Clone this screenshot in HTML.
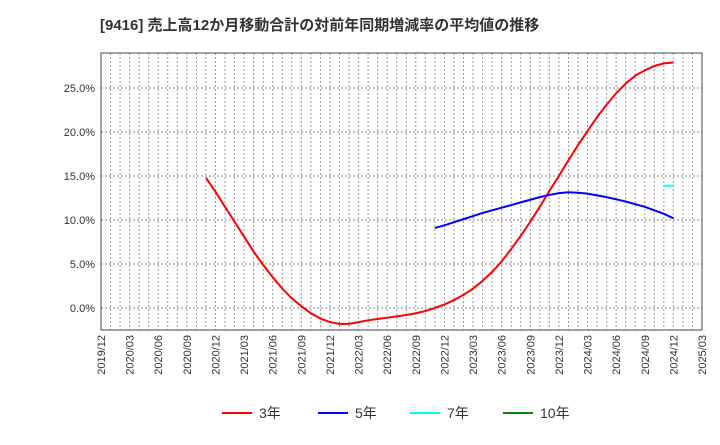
<!DOCTYPE html>
<html><head><meta charset="utf-8"><style>
body{margin:0;background:#fff;font-family:"Liberation Sans","Noto Sans CJK JP",sans-serif;}
</style></head><body>
<svg id="chart" width="720" height="440" xmlns="http://www.w3.org/2000/svg" font-family="Liberation Sans, Noto Sans CJK JP, sans-serif">
<text x="100" y="30" font-size="15" font-weight="bold" fill="#333">[9416]  売上高12か月移動合計の対前年同期増減率の平均値の推移</text>
<g id="grid"></g><g id="series"></g><g id="axes"></g>
<g id="legend"></g>
</svg>
<script>
const xLabels=["2019/12","2020/03","2020/06","2020/09","2020/12","2021/03","2021/06","2021/09","2021/12","2022/03","2022/06","2022/09","2022/12","2023/03","2023/06","2023/09","2023/12","2024/03","2024/06","2024/09","2024/12","2025/03"];
const yTicks=[0,5,10,15,20,25];
const red3Start=11;
const red3=[14.8,13.2,11.5,9.8,8.1,6.4,4.9,3.5,2.2,1.1,0.2,-0.6,-1.2,-1.6,-1.8,-1.8,-1.6,-1.4,-1.25,-1.1,-0.95,-0.8,-0.6,-0.35,0.0,0.4,0.9,1.5,2.2,3.1,4.1,5.3,6.7,8.2,9.8,11.5,13.3,15.0,16.8,18.5,20.1,21.7,23.1,24.4,25.5,26.4,27.0,27.5,27.8,27.9];
const blue5Start=35;
const blue5=[9.1,9.4,9.75,10.1,10.45,10.8,11.1,11.4,11.7,12.0,12.3,12.6,12.85,13.05,13.15,13.1,13.0,12.8,12.6,12.35,12.1,11.8,11.5,11.1,10.7,10.2];
const cyan7Start=59;
const cyan7=[13.9,13.9];
const green10Start=60;
const green10=[];
const X0=101,X1=702,Y0=53,Y1=330,NM=63;
const xs=m=>X0+(X1-X0)*m/NM;
const ys=v=>308-v*8.8;
const NS="http://www.w3.org/2000/svg";
function mk(t,a,p){const e=document.createElementNS(NS,t);for(const k in a)e.setAttribute(k,a[k]);p.appendChild(e);return e;}
const grid=document.getElementById('grid'),axes=document.getElementById('axes'),ser=document.getElementById('series'),leg=document.getElementById('legend');
for(let m=1;m<NM;m++){const l=mk('line',{x1:xs(m),x2:xs(m),y1:Y0,y2:Y1,stroke:'#999','stroke-dasharray':'2,2','stroke-width':1},grid);

}
yTicks.forEach(v=>{const l=mk('line',{x1:X0,x2:X1,y1:ys(v),y2:ys(v),stroke:'#888','stroke-dasharray':'2,2','stroke-width':1},grid);


const t=mk('text',{x:X0-6,y:ys(v)+4,'text-anchor':'end','font-size':11,fill:'#333'},axes);t.textContent=v.toFixed(1)+'%';

});
const fr=mk('rect',{x:X0,y:Y0,width:X1-X0,height:Y1-Y0,fill:'none',stroke:'#444','stroke-width':1},axes);


xLabels.forEach((s,i)=>{const x=xs(i*3);const t=mk('text',{transform:`translate(${x+4},${Y1+5}) rotate(-90)`,'text-anchor':'end','font-size':11,fill:'#333'},axes);t.textContent=s;

});
function line(vals,start,col,name){if(!vals.length)return;const p=mk('polyline',{points:vals.map((v,i)=>xs(start+i)+','+ys(v)).join(' '),fill:'none',stroke:col,'stroke-width':2},ser);

}
line(red3,red3Start,'#f00','series-3y');
line(blue5,blue5Start,'#00f','series-5y');
line(cyan7,cyan7Start,'#0ff','series-7y');
line(green10,green10Start,'#080','series-10y');
[['3年','#f00',222],['5年','#00f',318],['7年','#0ff',410],['10年','#080',503]].forEach(([n,c,x])=>{
const l=mk('line',{x1:x,x2:x+30,y1:413,y2:413,stroke:c,'stroke-width':2},leg);


const t=mk('text',{x:x+37,y:418,'font-size':14,fill:'#333'},leg);t.textContent=n;

});
</script>
</body></html>
